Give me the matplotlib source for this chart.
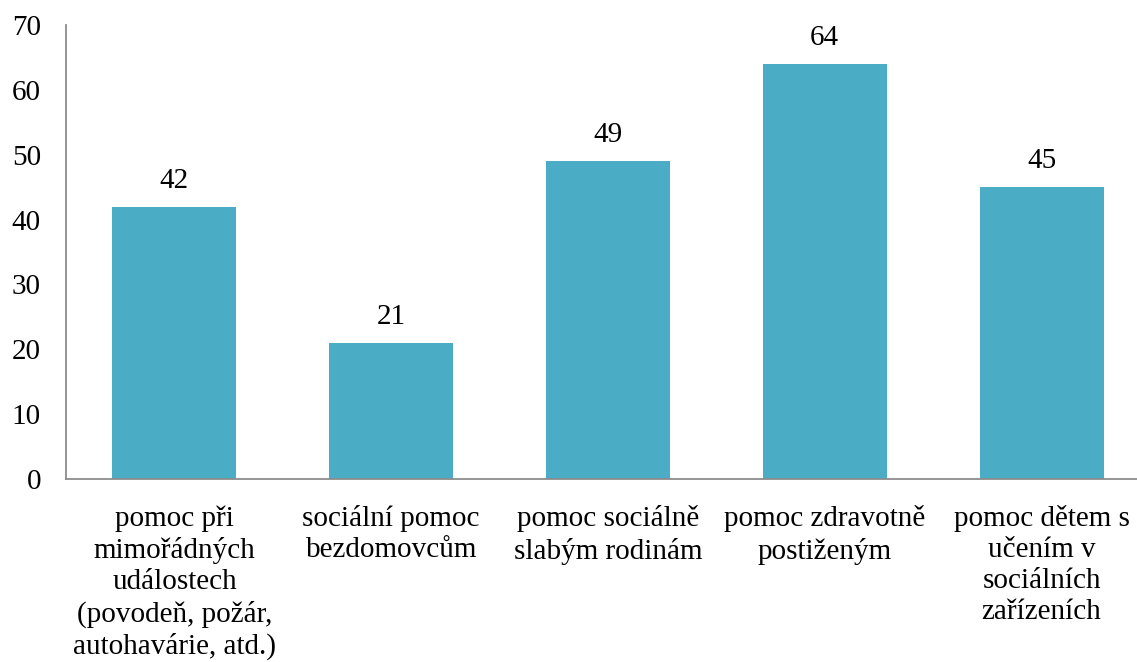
import matplotlib.pyplot as plt

plt.rcParams['font.family'] = ['Liberation Serif', 'DejaVu Serif']

categories = [
    'pomoc při\nmimořádných\nudálostech\n(povodeň, požár,\nautohavárie, atd.)',
    'sociální pomoc\nbezdomovcům',
    'pomoc sociálně\nslabým rodinám',
    'pomoc zdravotně\npostiženým',
    'pomoc dětem s\nučením v\nsociálních\nzařízeních',
]
values = [42, 21, 49, 64, 45]

fig = plt.figure(figsize=(11.37, 6.62), dpi=100)
# axes run slightly past the right edge so the last slot is as wide as the rest
ax = fig.add_axes([66 / 1137, 1 - 479 / 662, 1084 / 1137, 454 / 662])

x = range(len(values))
bars = ax.bar(x, values, width=0.572, color='#4BACC6')
for b, v in zip(bars, values):
    ax.text(b.get_x() + b.get_width() / 2, v + 2.9, str(v),
            ha='center', va='baseline', fontsize=21)

ax.set_xlim(-0.5, len(values) - 0.5)
ax.set_ylim(0, 70)
ax.set_yticks(range(0, 71, 10))
ax.set_xticks(list(x))
ax.set_xticklabels(categories, fontsize=21, linespacing=1.25)
ax.tick_params(axis='both', length=0, labelsize=21)
ax.tick_params(axis='x', pad=19)
ax.tick_params(axis='y', pad=18)

for side in ('top', 'right'):
    ax.spines[side].set_visible(False)
for side in ('left', 'bottom'):
    ax.spines[side].set_color('#8c8c8c')
    ax.spines[side].set_linewidth(1.3)

fig.savefig('out.png', dpi=100)
